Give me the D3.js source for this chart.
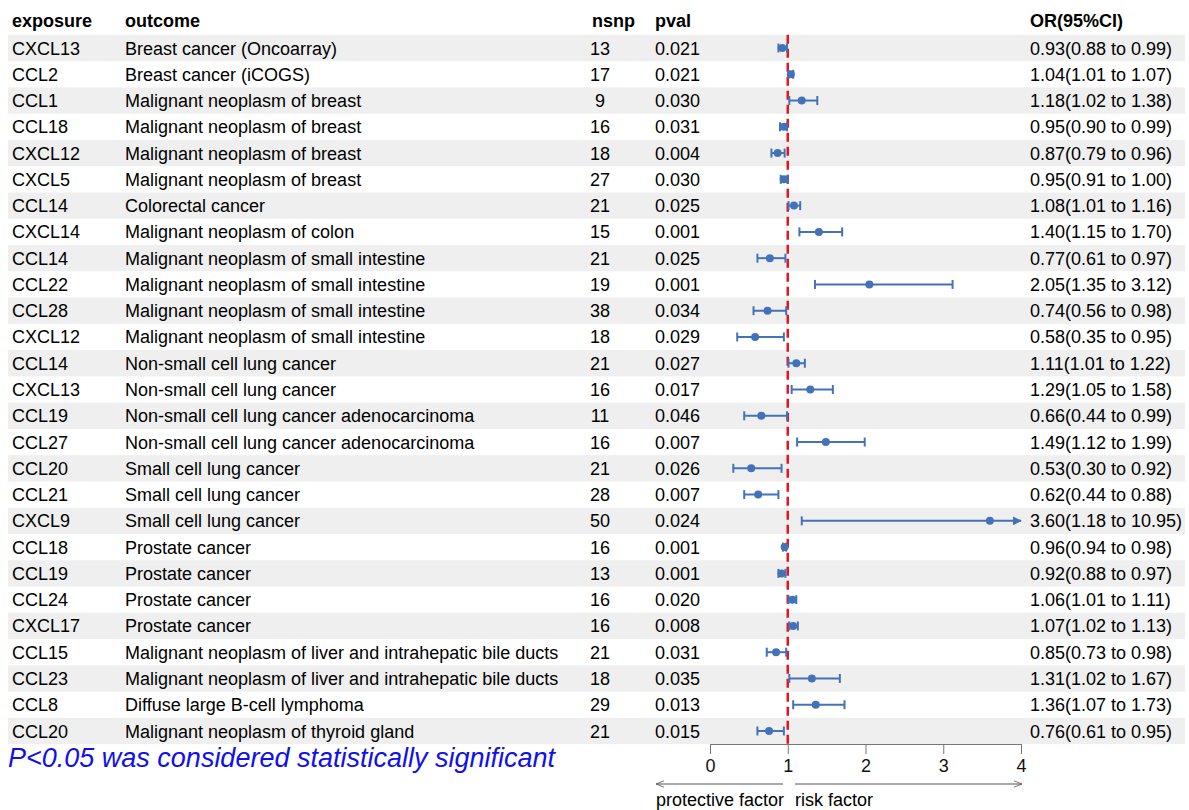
<!DOCTYPE html>
<html><head><meta charset="utf-8">
<script src="https://cdn.jsdelivr.net/npm/d3@7"></script>
<style>body{margin:0;background:#fff;} text{font-family:"Liberation Sans",Arial,sans-serif;}</style>
</head><body>
<svg id="c" width="1189" height="810"></svg>
<script>
const exposure = ["CXCL13","CCL2","CCL1","CCL18","CXCL12","CXCL5","CCL14","CXCL14","CCL14","CCL22","CCL28","CXCL12","CCL14","CXCL13","CCL19","CCL27","CCL20","CCL21","CXCL9","CCL18","CCL19","CCL24","CXCL17","CCL15","CCL23","CCL8","CCL20"];
const outcome = ["Breast cancer (Oncoarray)","Breast cancer (iCOGS)","Malignant neoplasm of breast","Malignant neoplasm of breast","Malignant neoplasm of breast","Malignant neoplasm of breast","Colorectal cancer","Malignant neoplasm of colon","Malignant neoplasm of small intestine","Malignant neoplasm of small intestine","Malignant neoplasm of small intestine","Malignant neoplasm of small intestine","Non-small cell lung cancer","Non-small cell lung cancer","Non-small cell lung cancer adenocarcinoma","Non-small cell lung cancer adenocarcinoma","Small cell lung cancer","Small cell lung cancer","Small cell lung cancer","Prostate cancer","Prostate cancer","Prostate cancer","Prostate cancer","Malignant neoplasm of liver and intrahepatic bile ducts","Malignant neoplasm of liver and intrahepatic bile ducts","Diffuse large B-cell lymphoma","Malignant neoplasm of thyroid gland"];
const nsnp = [13,17,9,16,18,27,21,15,21,19,38,18,21,16,11,16,21,28,50,16,13,16,16,21,18,29,21];
const pval = ["0.021","0.021","0.030","0.031","0.004","0.030","0.025","0.001","0.025","0.001","0.034","0.029","0.027","0.017","0.046","0.007","0.026","0.007","0.024","0.001","0.001","0.020","0.008","0.031","0.035","0.013","0.015"];
const orVal = [0.93,1.04,1.18,0.95,0.87,0.95,1.08,1.40,0.77,2.05,0.74,0.58,1.11,1.29,0.66,1.49,0.53,0.62,3.60,0.96,0.92,1.06,1.07,0.85,1.31,1.36,0.76];
const lower = [0.88,1.01,1.02,0.90,0.79,0.91,1.01,1.15,0.61,1.35,0.56,0.35,1.01,1.05,0.44,1.12,0.30,0.44,1.18,0.94,0.88,1.01,1.02,0.73,1.02,1.07,0.61];
const upper = [0.99,1.07,1.38,0.99,0.96,1.00,1.16,1.70,0.97,3.12,0.98,0.95,1.22,1.58,0.99,1.99,0.92,0.88,10.95,0.98,0.97,1.11,1.13,0.98,1.67,1.73,0.95];
const ticks = [0,1,2,3,4];

const svg = d3.select("#c");
const n = exposure.length;
const y = d3.scaleLinear().domain([0, n-1]).range([48, 731]);
const rh = (731-48)/(n-1);
const x = d3.scaleLinear().domain([0,4]).range([710, 1021]);
const blue = "#4472b8";
const fs = 18;

svg.append("defs").html(`
<marker id="ah" viewBox="0 0 10 10" refX="9" refY="5" markerWidth="9" markerHeight="9" orient="auto-start-reverse" markerUnits="userSpaceOnUse"><path d="M0,0 L10,5 L0,10 z" fill="${blue}"/></marker>
<marker id="ag" viewBox="0 0 10 10" refX="10" refY="5" markerWidth="8" markerHeight="8" orient="auto-start-reverse" markerUnits="userSpaceOnUse"><path d="M0,1 L10,5 L0,9" fill="none" stroke="#555" stroke-width="1"/></marker>`);

// stripes
svg.selectAll("rect.band").data(d3.range(n).filter(i=>i%2===0)).join("rect")
  .attr("x",8).attr("width",1177).attr("y",i=>y(i)-rh/2).attr("height",rh).attr("fill","#efefef");

// header
const hdr = [["exposure",12],["outcome",125],["nsnp",592],["pval",655],["OR(95%CI)",1030]];
svg.selectAll("text.h").data(hdr).join("text").attr("x",d=>d[1]).attr("y",27)
  .attr("font-size",fs).attr("font-weight","bold").text(d=>d[0]);

const rows = svg.append("g");
d3.range(n).forEach(i=>{
  const yy = y(i)+6.5;
  rows.append("text").attr("x",12).attr("y",yy).attr("font-size",fs).text(exposure[i]);
  rows.append("text").attr("x",125).attr("y",yy).attr("font-size",fs).text(outcome[i]);
  rows.append("text").attr("x",600).attr("y",yy).attr("font-size",fs).attr("text-anchor","middle").text(nsnp[i]);
  rows.append("text").attr("x",655).attr("y",yy).attr("font-size",fs).text(pval[i]);
  rows.append("text").attr("x",1030).attr("y",yy).attr("font-size",fs)
    .text(`${orVal[i].toFixed(2)}(${lower[i].toFixed(2)} to ${upper[i].toFixed(2)})`);
});

// reference line
svg.append("line").attr("x1",x(1)).attr("x2",x(1)).attr("y1",y(0)-rh/2).attr("y2",744)
  .attr("stroke","#e8141c").attr("stroke-width",2.5).attr("stroke-dasharray","9,5");

// CIs
const ci = svg.append("g");
d3.range(n).forEach(i=>{
  const yy = y(i);
  const lo = x(Math.max(lower[i],0)), clipped = upper[i] > 4;
  const hi = x(Math.min(upper[i],4));
  const l = ci.append("line").attr("x1",lo).attr("x2",hi).attr("y1",yy).attr("y2",yy)
    .attr("stroke",blue).attr("stroke-width",2);
  ci.append("line").attr("x1",lo).attr("x2",lo).attr("y1",yy-4.5).attr("y2",yy+4.5).attr("stroke",blue).attr("stroke-width",2);
  if (clipped) { l.attr("marker-end","url(#ah)"); }
  else ci.append("line").attr("x1",hi).attr("x2",hi).attr("y1",yy-4.5).attr("y2",yy+4.5).attr("stroke",blue).attr("stroke-width",2);
  ci.append("circle").attr("cx",x(orVal[i])).attr("cy",yy).attr("r",4).attr("fill",blue);
});

// axis
const ax = svg.append("g").attr("transform","translate(0,744)")
  .call(d3.axisBottom(x).tickValues(ticks).tickSize(10).tickSizeOuter(0).tickFormat(d3.format("d")));
ax.select(".domain").attr("stroke","#777");
ax.selectAll(".tick line").attr("stroke","#777");
ax.selectAll(".tick text").attr("font-size",fs).attr("fill","#111").attr("dy","0.85em")
  .attr("font-family","Liberation Sans, Arial, sans-serif");

// direction arrows
svg.append("line").attr("x1",783).attr("x2",656).attr("y1",784).attr("y2",784).attr("stroke","#555").attr("stroke-width",1).attr("marker-end","url(#ag)");
svg.append("line").attr("x1",795).attr("x2",1022).attr("y1",784).attr("y2",784).attr("stroke","#555").attr("stroke-width",1).attr("marker-end","url(#ag)");
svg.append("text").attr("x",656).attr("y",806).attr("font-size",fs).text("protective factor");
svg.append("text").attr("x",795).attr("y",806).attr("font-size",fs).text("risk factor");

// footnote
svg.append("text").attr("x",8).attr("y",767).attr("font-size",27).attr("font-style","italic")
  .attr("fill","#1010ee").text("P<0.05 was considered statistically significant");
</script>
</body></html>
